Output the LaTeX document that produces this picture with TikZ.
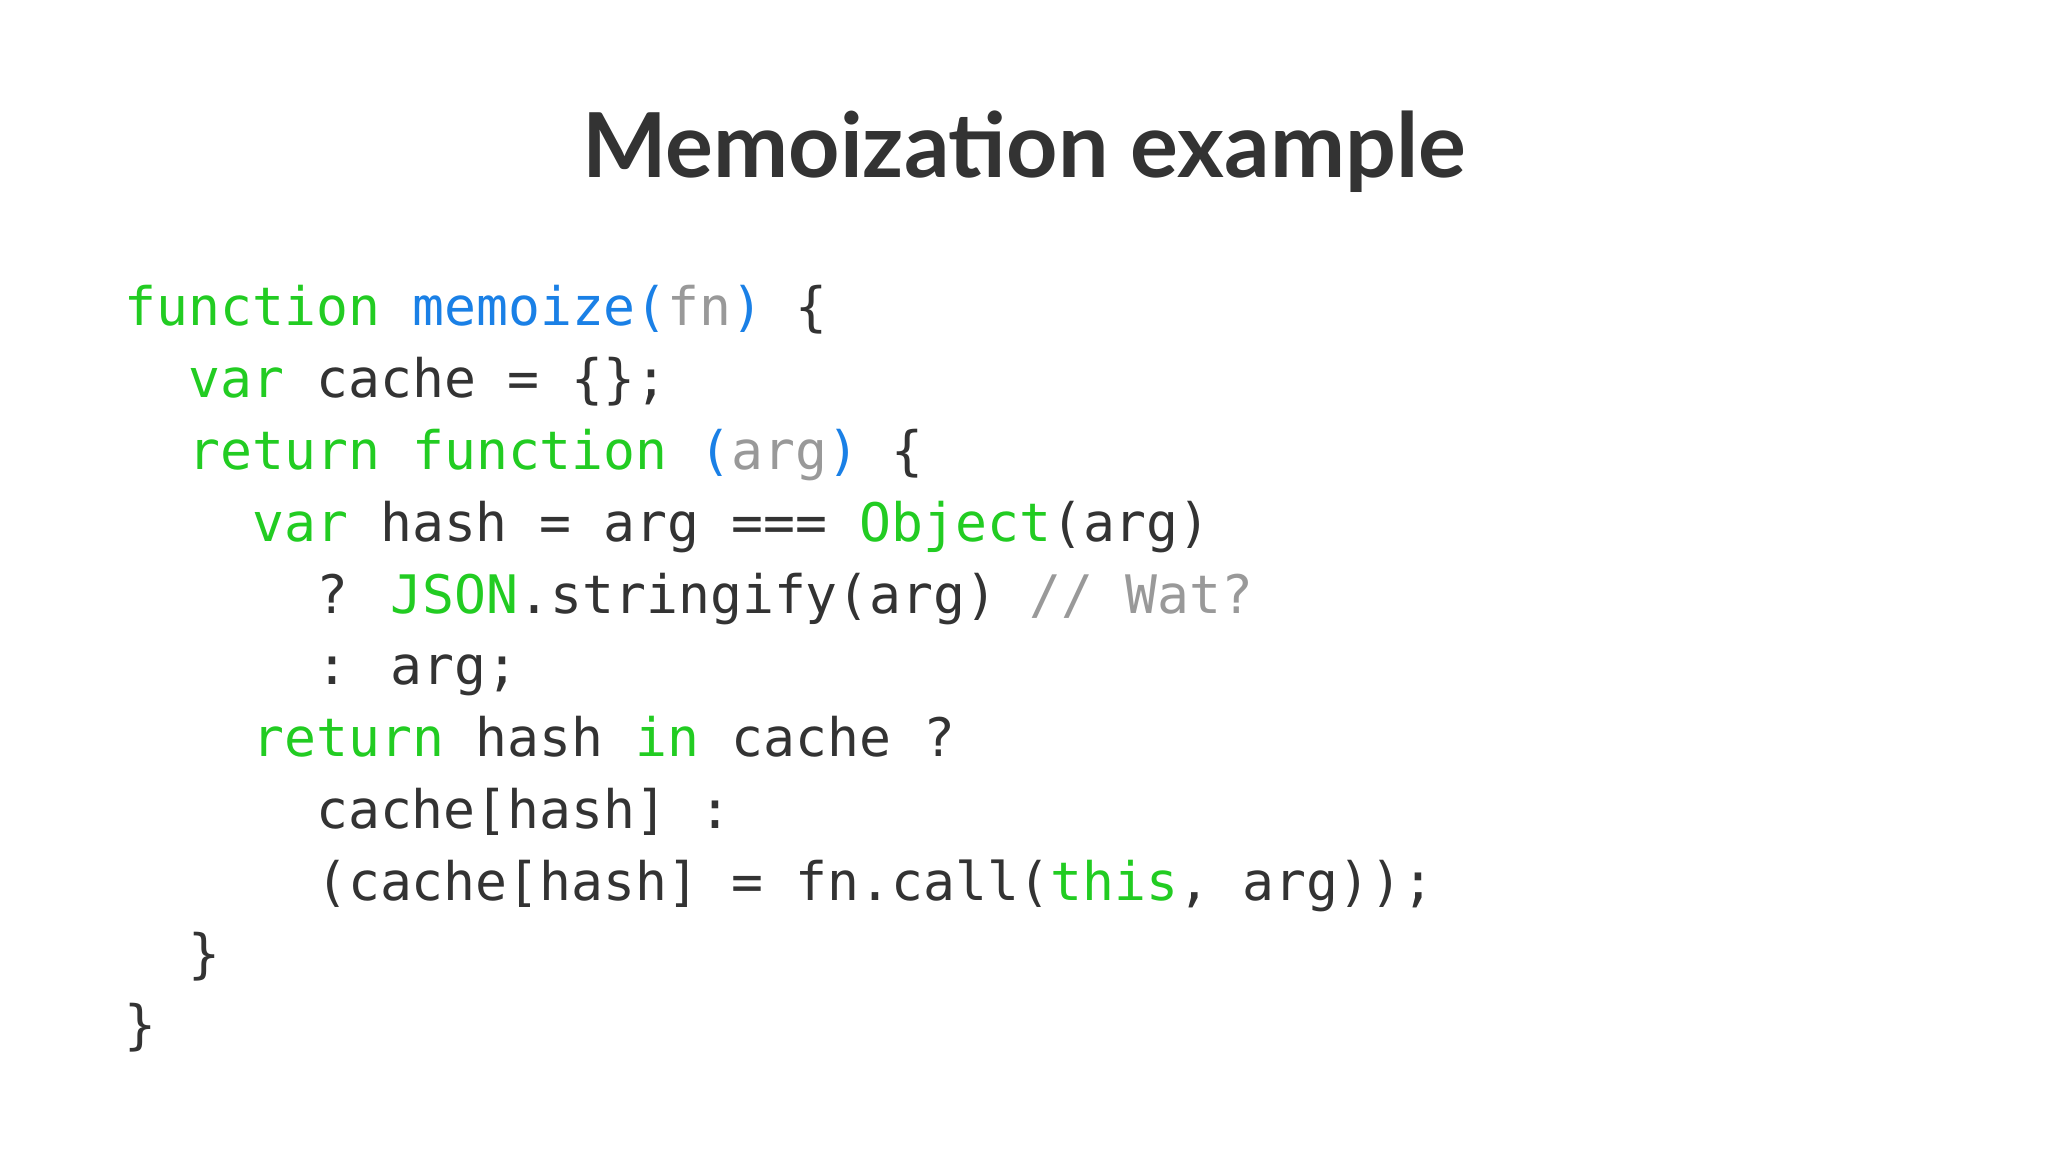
\documentclass[tikz,border=0pt]{standalone}
\usepackage{fontspec}
\setmainfont{Lato}
\newfontfamily\codefont{DejaVu Sans Mono}
\definecolor{fg}{HTML}{333333}
\definecolor{kw}{HTML}{22CC22}
\definecolor{fnb}{HTML}{1A80E6}
\definecolor{cm}{HTML}{999999}
\tikzset{codeline/.style={anchor=base west,inner sep=0pt,text=fg,font=\codefont\fontsize{15.1}{18}\selectfont}}
\newcommand{\K}[1]{\textcolor{kw}{#1}}
\newcommand{\B}[1]{\textcolor{fnb}{#1}}
\newcommand{\G}[1]{\textcolor{cm}{#1}}
\begin{document}
\begin{tikzpicture}
\fill[white] (0,0) rectangle (20.48,11.52);
\useasboundingbox (0,0) rectangle (20.48,11.52);
\node[text=fg,font=\bfseries\fontsize{25.5}{30}\selectfont] (title) at (10.24,10.0) {Memoization example};
\def\cw{0.319}
\def\xa{1.24}
\foreach \i/\ind/\txt in {
 0/0/{\K{function} \B{memoize(}\G{fn}\B{)} \{},
 1/2/{\K{var} cache = \{\};},
 2/2/{\K{return} \K{function} \B{(}\G{arg}\B{)} \{},
 3/4/{\K{var} hash = arg === \K{Object}(arg)},
 4/6/{? \K{JSON}.stringify(arg) \G{// Wat?}},
 5/6/{: arg;},
 6/4/{\K{return} hash \K{in} cache ?},
 7/6/{cache[hash] :},
 8/6/{(cache[hash] = fn.call(\K{this}, arg));},
 9/2/{\}},
 10/0/{\}}}
 \node[codeline] (line\i) at ({\xa+\ind*\cw},{11.52-3.26-\i*0.718}) {\txt};
\end{tikzpicture}
\end{document}
